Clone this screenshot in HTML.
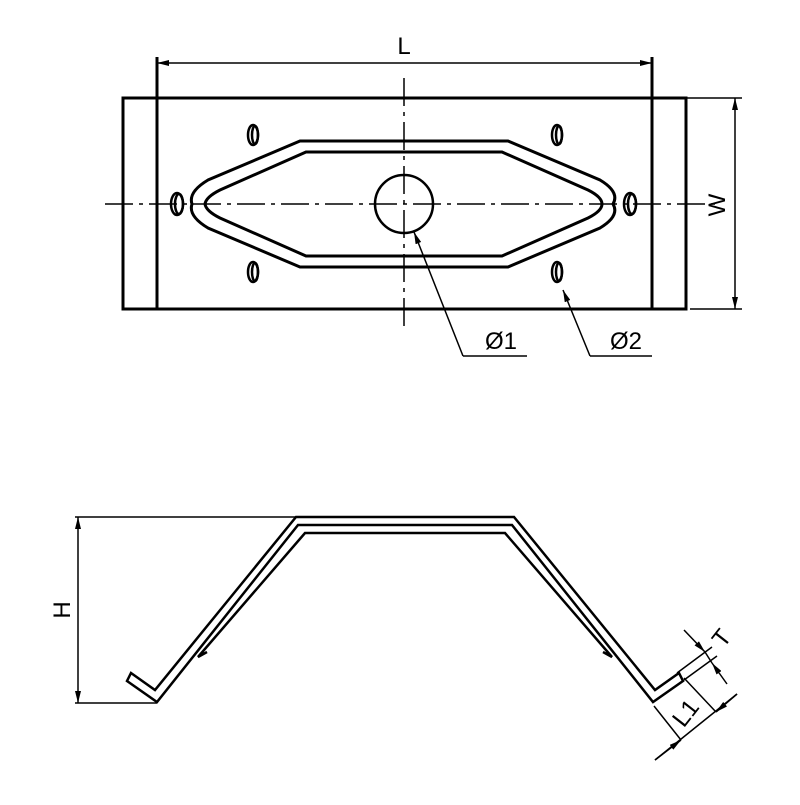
<!DOCTYPE html>
<html><head><style>html,body{margin:0;padding:0;background:#fff}</style></head>
<body>
<svg width="800" height="800" viewBox="0 0 800 800" xmlns="http://www.w3.org/2000/svg" font-family="Liberation Sans, sans-serif">
<defs>
<marker id="a" viewBox="0 0 12 6" refX="12" refY="3" markerWidth="12" markerHeight="6" markerUnits="userSpaceOnUse" orient="auto"><path d="M0,0L12,3L0,6z" fill="#000"/></marker>
<marker id="b" viewBox="0 0 12 6" refX="0" refY="3" markerWidth="12" markerHeight="6" markerUnits="userSpaceOnUse" orient="auto"><path d="M12,0L0,3L12,6z" fill="#000"/></marker>
</defs>
<g fill="none" stroke="#000">
<!-- top view -->
<rect x="123" y="98" width="563" height="211" stroke-width="3"/>
<line x1="157" y1="57" x2="157" y2="309" stroke-width="3"/>
<line x1="652" y1="57" x2="652" y2="309" stroke-width="3"/>
<line x1="157" y1="57" x2="157" y2="98" stroke-width="1.5"/>
<line x1="652" y1="57" x2="652" y2="98" stroke-width="1.5"/>
<line x1="157" y1="63" x2="652" y2="63" stroke-width="1.5" marker-start="url(#b)" marker-end="url(#a)"/>
<line x1="686" y1="98" x2="742" y2="98" stroke-width="1.5"/>
<line x1="690" y1="309" x2="742" y2="309" stroke-width="1.5"/>
<line x1="735" y1="98" x2="735" y2="309" stroke-width="1.5" marker-start="url(#b)" marker-end="url(#a)"/>
<line x1="105" y1="204" x2="715" y2="204" stroke-width="1.5" stroke-dasharray="28,6,4,6"/>
<line x1="404" y1="78" x2="404" y2="328" stroke-width="1.5" stroke-dasharray="28,6,4,6"/>
<circle cx="404" cy="204" r="29" stroke-width="2.5"/>
<path d="M300,141 L508,141 L600,180 Q620,192 613,204 Q620,216 600,228 L508,267 L300,267 L208,228 Q188,216 192,204 Q188,192 208,180 Z" stroke-width="3"/>
<path d="M306,152 L502,152 L588,190 Q602,197 602,204 Q602,211 588,218 L502,256 L306,256 L220,218 Q206,211 205,204 Q206,197 220,190 Z" stroke-width="3"/>
<g stroke-width="2.5">
<ellipse cx="253" cy="135" rx="5" ry="10"/><ellipse cx="255" cy="135" rx="3" ry="9"/>
<ellipse cx="253" cy="272" rx="5" ry="10"/><ellipse cx="255" cy="272" rx="3" ry="9"/>
<ellipse cx="557" cy="135" rx="5" ry="10"/><ellipse cx="559" cy="135" rx="3" ry="9"/>
<ellipse cx="557" cy="272" rx="5" ry="10"/><ellipse cx="559" cy="272" rx="3" ry="9"/>
<ellipse cx="177" cy="204" rx="6" ry="11"/><ellipse cx="179" cy="204" rx="4" ry="10"/>
<ellipse cx="630" cy="204" rx="6" ry="11"/><ellipse cx="632" cy="204" rx="4" ry="10"/>
</g>
<polyline points="463,356 414,232" stroke-width="1.5" marker-end="url(#a)"/>
<line x1="463" y1="356" x2="527" y2="356" stroke-width="1.5"/>
<polyline points="590,356 563,290" stroke-width="1.5" marker-end="url(#a)"/>
<line x1="590" y1="356" x2="652" y2="356" stroke-width="1.5"/>
<!-- side view -->
<line x1="75" y1="517" x2="295" y2="517" stroke-width="1.5"/>
<line x1="75" y1="703" x2="157" y2="703" stroke-width="1.5"/>
<line x1="78" y1="517" x2="78" y2="703" stroke-width="1.5" marker-start="url(#b)" marker-end="url(#a)"/>
<g stroke-width="2.5" stroke-linejoin="miter">
<path d="M131,673 L155,690 L296,517 L514,517 L655,690 L679,673 L683,681 L653,702 L512,525 L298,525 L157,702 L127,681 Z"/>
<path d="M207,652 L198,657 L305,533 L505,533 L612,657 L603,652"/>
</g>
<!-- L1 / T dims -->
<g stroke-width="1.5">
<line x1="654" y1="706" x2="681" y2="740"/>
<line x1="684" y1="678" x2="716" y2="712"/>
<line x1="655" y1="760" x2="737" y2="694"/>
<line x1="655" y1="760" x2="681" y2="740" marker-end="url(#a)"/>
<line x1="737" y1="694" x2="716" y2="712" marker-end="url(#a)"/>
<line x1="677" y1="673" x2="712" y2="647"/>
<line x1="684" y1="680" x2="717" y2="656"/>
<line x1="684" y1="630" x2="705" y2="652" marker-end="url(#a)"/>
<line x1="727" y1="684" x2="712" y2="663" marker-end="url(#a)"/>
<line x1="705" y1="652" x2="712" y2="663"/>
</g>
</g>
<g font-size="24" fill="#000">
<text x="404" y="54" text-anchor="middle">L</text>
<text x="485" y="349">Ø1</text>
<text x="610" y="349">Ø2</text>
<text transform="translate(725,205) rotate(-90)" text-anchor="middle">W</text>
<text transform="translate(70,610) rotate(-90)" text-anchor="middle">H</text>
<text transform="translate(692,718) rotate(-52)" text-anchor="middle">L1</text>
<text transform="translate(728,643) rotate(-52)" text-anchor="middle">T</text>
</g>
</svg>
</body></html>
